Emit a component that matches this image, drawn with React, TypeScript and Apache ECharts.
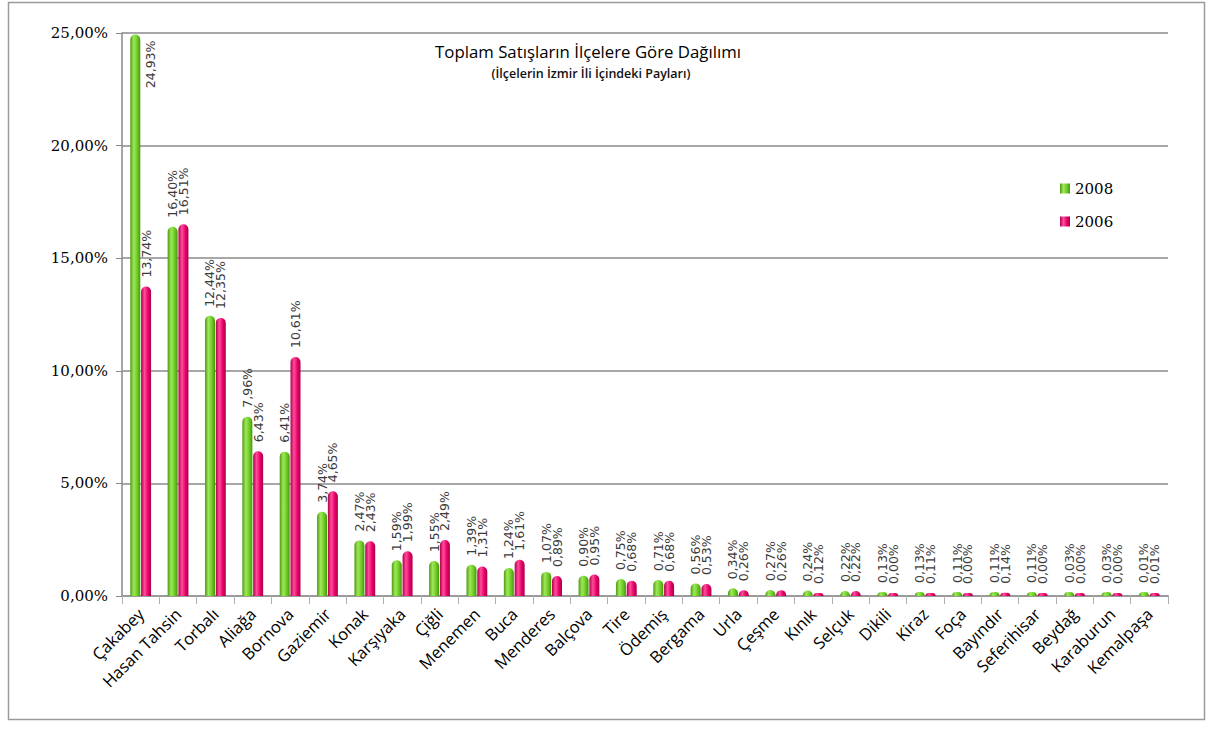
import React, { useEffect, useRef } from "react";
import * as echarts from "echarts";

const categories = [
  "Çakabey", "Hasan Tahsin", "Torbalı", "Aliağa", "Bornova", "Gaziemir", "Konak",
  "Karşıyaka", "Çiğli", "Menemen", "Buca", "Menderes", "Balçova", "Tire", "Ödemiş",
  "Bergama", "Urla", "Çeşme", "Kınık", "Selçuk", "Dikili", "Kiraz", "Foça",
  "Bayındır", "Seferihisar", "Beydağ", "Karaburun", "Kemalpaşa",
];
const values2008 = [
  24.93, 16.4, 12.44, 7.96, 6.41, 3.74, 2.47, 1.59, 1.55, 1.39, 1.24, 1.07, 0.9, 0.75,
  0.71, 0.56, 0.34, 0.27, 0.24, 0.22, 0.13, 0.13, 0.11, 0.11, 0.11, 0.03, 0.03, 0.01,
];
const values2006 = [
  13.74, 16.51, 12.35, 6.43, 10.61, 4.65, 2.43, 1.99, 2.49, 1.31, 1.61, 0.89, 0.95, 0.68,
  0.68, 0.53, 0.26, 0.26, 0.12, 0.22, 0.0, 0.11, 0.0, 0.14, 0.0, 0.0, 0.0, 0.01,
];
const seriesNames = ["2008", "2006"];
const yTicks = [0, 5, 10, 15, 20, 25];
const titleText = "Toplam Satışların İlçelere Göre Dağılımı";
const subtitleText = "(İlçelerin İzmir İli İçindeki Payları)";

const fmt = (v: number) => v.toFixed(2).replace(".", ",") + "%";

const greenGrad = new echarts.graphic.LinearGradient(0, 0, 1, 0, [
  { offset: 0, color: "#4f9a12" },
  { offset: 0.35, color: "#9de85a" },
  { offset: 0.7, color: "#6ccc22" },
  { offset: 1, color: "#4a9410" },
]);
const pinkGrad = new echarts.graphic.LinearGradient(0, 0, 1, 0, [
  { offset: 0, color: "#b0004c" },
  { offset: 0.35, color: "#ff4d98" },
  { offset: 0.7, color: "#e6006a" },
  { offset: 1, color: "#a80048" },
]);

export default function App() {
  const ref = useRef<HTMLDivElement>(null);
  useEffect(() => {
    if (!ref.current) return;
    const chart = echarts.init(ref.current, null, { renderer: "svg" });
    const labelBase = {
      show: true,
      position: "top" as const,
      rotate: 90,
      align: "left",
      verticalAlign: "middle",
      distance: 9,
      fontFamily: "DejaVu Sans",
      fontSize: 12.5,
      color: "#3a3a3a",
      formatter: (p: any) => fmt(p.value),
    };
    const data2008 = values2008.map((v, i) =>
      i === 0
        ? {
            value: v,
            label: {
              position: [20, 6],
              align: "right",
              verticalAlign: "middle",
            },
          }
        : v
    );
    chart.setOption({
      animation: false,
      backgroundColor: "#ffffff",
      graphic: [
        {
          type: "rect",
          shape: { x: 8.5, y: 2.5, width: 1196, height: 717 },
          style: { fill: "none", stroke: "#9a9a9a", lineWidth: 1.5 },
          silent: true,
        },
        {
          type: "text",
          x: 588,
          y: 51,
          style: {
            text: titleText,
            fontFamily: "Open Sans",
            fontSize: 16.8,
            fill: "#000",
            align: "center",
            verticalAlign: "middle",
          },
        },
        {
          type: "text",
          x: 591,
          y: 73,
          style: {
            text: subtitleText,
            fontFamily: "Open Sans",
            fontSize: 12.5,
            fontWeight: 600,
            fill: "#111",
            align: "center",
            verticalAlign: "middle",
          },
        },
      ],
      legend: {
        orient: "vertical",
        left: 1055,
        top: 176,
        itemGap: 18,
        itemWidth: 10,
        itemHeight: 10,
        icon: "rect",
        data: seriesNames,
        textStyle: { fontFamily: "DejaVu Serif", fontSize: 15, color: "#000" },
      },
      grid: { left: 122, right: 44, top: 33, bottom: 133, containLabel: false },
      xAxis: {
        type: "category",
        data: categories,
        axisLine: { show: true, lineStyle: { color: "#9a9a9a", width: 2 } },
        axisTick: { show: true, length: 8, lineStyle: { color: "#b0b0b0" } },
        axisLabel: {
          interval: 0,
          rotate: 45,
          margin: 15,
          fontFamily: "Open Sans",
          fontSize: 16.5,
          color: "#000",
        },
      },
      yAxis: {
        type: "value",
        min: 0,
        max: 25,
        interval: 5,
        axisLine: { show: true, lineStyle: { color: "#8a8a8a", width: 1.5 } },
        axisTick: { show: true, length: 6, lineStyle: { color: "#8a8a8a" } },
        splitLine: { show: true, lineStyle: { color: "#8a8a8a", width: 1.5 } },
        axisLabel: {
          margin: 14,
          fontFamily: "DejaVu Serif",
          fontSize: 15,
          color: "#000",
          formatter: (v: number) => (yTicks.includes(v) ? fmt(v) : ""),
        },
      },
      series: [
        {
          name: seriesNames[0],
          type: "bar",
          data: data2008,
          barWidth: 10,
          barGap: "8%",
          barMinHeight: 4,
          itemStyle: { color: greenGrad, borderRadius: [5, 5, 0, 0] },
          label: labelBase,
        },
        {
          name: seriesNames[1],
          type: "bar",
          data: values2006,
          barWidth: 10,
          barMinHeight: 3,
          itemStyle: { color: pinkGrad, borderRadius: [5, 5, 0, 0] },
          label: labelBase,
        },
      ],
    });
    return () => chart.dispose();
  }, []);
  return <div ref={ref} style={{ width: 1212, height: 729, position: "absolute", left: 0, top: 0 }} />;
}
